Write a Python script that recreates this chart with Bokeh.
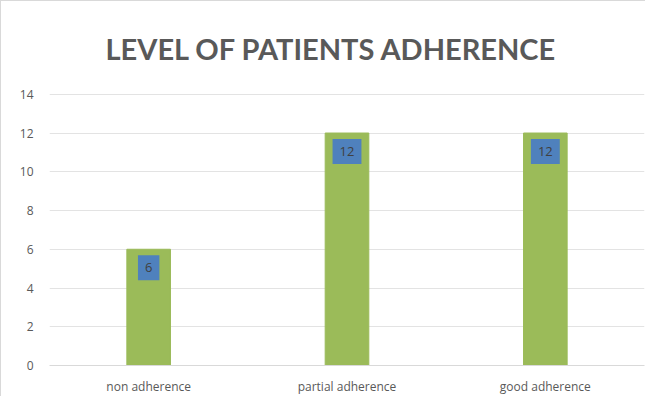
from bokeh.plotting import figure
from bokeh.models import ColumnDataSource, Range1d, FactorRange
from bokeh.core.properties import value
from bokeh.embed import file_html
from bokeh.resources import INLINE

categories = ["non adherence", "partial adherence", "good adherence"]
values = [6, 12, 12]
y_ticks = [0, 2, 4, 6, 8, 10, 12, 14]

src = ColumnDataSource(dict(cat=categories, val=values, lab=[str(v) for v in values]))

p = figure(x_range=FactorRange(*categories), y_range=Range1d(0, 14.04),
           width=645, height=396, output_backend="svg", toolbar_location=None,
           min_border_left=48, min_border_right=2, min_border_top=92, min_border_bottom=30)
p.styles = {"border-top": "1px solid #d9d9d9", "border-left": "1px solid #d9d9d9"}
p.outline_line_color = None
p.title.text = "LEVEL OF PATIENTS ADHERENCE"
p.title.align = "left"
p.title.offset = 56
p.title.standoff = 55
p.title.text_font = "Lato"
p.title.text_font_size = "29px"
p.title.text_font_style = "bold"
p.title.text_color = "#595959"

p.vbar(x="cat", top="val", width=0.22, source=src, color="#9bbb59")

p.text(x="cat", y="val", text="lab", source=src, y_offset=6,
       anchor="top_center", text_font_size="13px",
       text_font=value("Open Sans"), text_color="#404040",
       background_fill_color="#4f81bd", padding=(7, 8))

p.yaxis.ticker = y_ticks
p.yaxis.axis_line_color = None
p.yaxis.major_tick_line_color = None
p.yaxis.minor_tick_line_color = None
p.yaxis.major_label_text_color = "#595959"
p.yaxis.major_label_text_font = "Open Sans"
p.yaxis.major_label_text_font_size = "12px"
p.yaxis.major_label_standoff = 10

p.xaxis.axis_line_color = "#d9d9d9"
p.xaxis.major_tick_line_color = None
p.xaxis.minor_tick_line_color = None
p.xaxis.major_label_text_color = "#595959"
p.xaxis.major_label_text_font = "Open Sans"
p.xaxis.major_label_text_font_size = "12px"
p.xaxis.major_label_standoff = 6

p.xgrid.grid_line_color = None
p.ygrid.grid_line_color = "#e3e3e3"

open("out.html", "w").write(file_html(p, INLINE))
